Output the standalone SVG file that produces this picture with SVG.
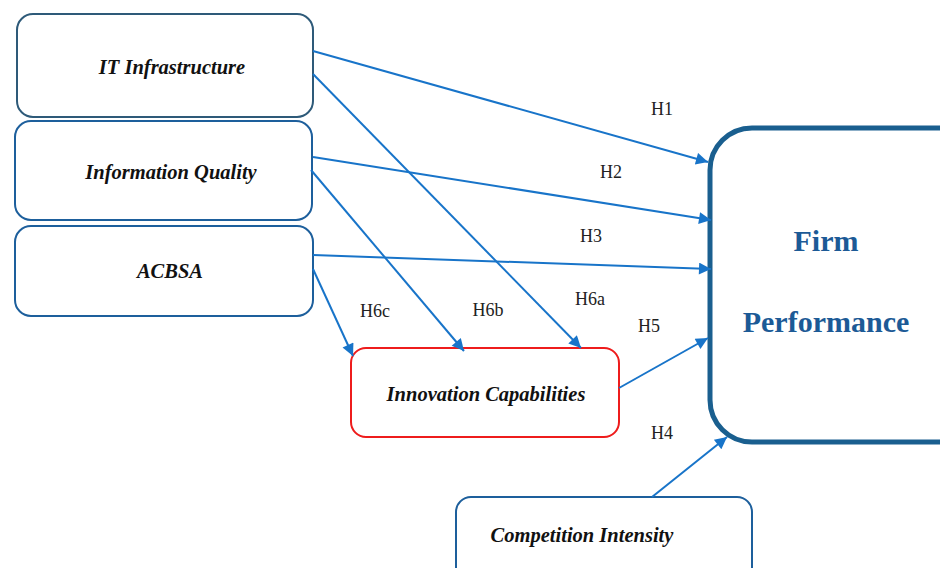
<svg xmlns="http://www.w3.org/2000/svg" width="940" height="568" viewBox="0 0 940 568">
<defs>
<style>
.box{fill:#fff;stroke-width:2}
.lbl{font-family:"Liberation Serif","DejaVu Serif",serif;font-weight:bold;font-style:italic;font-size:20.5px;fill:#111;text-anchor:middle}
.h{font-family:"Liberation Serif","DejaVu Serif",serif;font-size:18px;fill:#222;text-anchor:middle}
.fp{font-family:"Liberation Serif","DejaVu Serif",serif;font-weight:bold;font-size:30px;fill:#1c5a96;text-anchor:middle}
.c{stroke:#1874c9;stroke-width:2;fill:none;marker-end:url(#ah)}
</style>
<marker id="ah" viewBox="0 0 10 10" refX="10" refY="5" markerWidth="7.5" markerHeight="6" orient="auto" markerUnits="strokeWidth">
<path d="M0,0 L10,5 L0,10 z" fill="#1874c9"/>
</marker>
</defs>
<rect width="940" height="568" fill="#fff"/>
<g id="node-it">
<rect class="box" x="17" y="14" width="296" height="103" rx="16" stroke="#2e5a79"/>
<text class="lbl" x="172" y="74">IT Infrastructure</text>
</g>
<g id="node-iq">
<rect class="box" x="15" y="121" width="297" height="99" rx="16" stroke="#1d5f9c"/>
<text class="lbl" x="171" y="179">Information Quality</text>
</g>
<g id="node-acbsa">
<rect class="box" x="15" y="226" width="298" height="90" rx="16" stroke="#1d5f9c"/>
<text class="lbl" x="170" y="278">ACBSA</text>
</g>
<g id="node-ic">
<rect class="box" x="351" y="348" width="268" height="89" rx="15" stroke="#ee1c1c"/>
<text class="lbl" x="486" y="401">Innovation Capabilities</text>
</g>
<g id="node-fp">
<rect x="710" y="128" width="270" height="314" rx="42" fill="#fff" stroke="#1a5f8f" stroke-width="5"/>
<text class="fp" x="826" y="251">Firm</text>
<text class="fp" x="826" y="332">Performance</text>
</g>
<g id="node-ci">
<rect class="box" x="456" y="497" width="296" height="90" rx="15" stroke="#1d5f9c"/>
<text class="lbl" x="582" y="542">Competition Intensity</text>
</g>
<g id="connectors">
<line class="c" x1="313" y1="51" x2="708" y2="162"/>
<line class="c" x1="313" y1="74" x2="581" y2="348"/>
<line class="c" x1="313" y1="157" x2="711" y2="220"/>
<line class="c" x1="311" y1="170" x2="464" y2="351"/>
<line class="c" x1="313" y1="255" x2="711" y2="269"/>
<line class="c" x1="313" y1="269" x2="353" y2="356"/>
<line class="c" x1="619" y1="388" x2="708" y2="338"/>
<line class="c" x1="652" y1="497" x2="727" y2="437"/>
</g>
<g id="labels">
<text class="h" x="662" y="115">H1</text>
<text class="h" x="611" y="178">H2</text>
<text class="h" x="591" y="242">H3</text>
<text class="h" x="590" y="305">H6a</text>
<text class="h" x="488" y="316">H6b</text>
<text class="h" x="375" y="317">H6c</text>
<text class="h" x="649" y="332">H5</text>
<text class="h" x="662" y="439">H4</text>
</g>
</svg>
